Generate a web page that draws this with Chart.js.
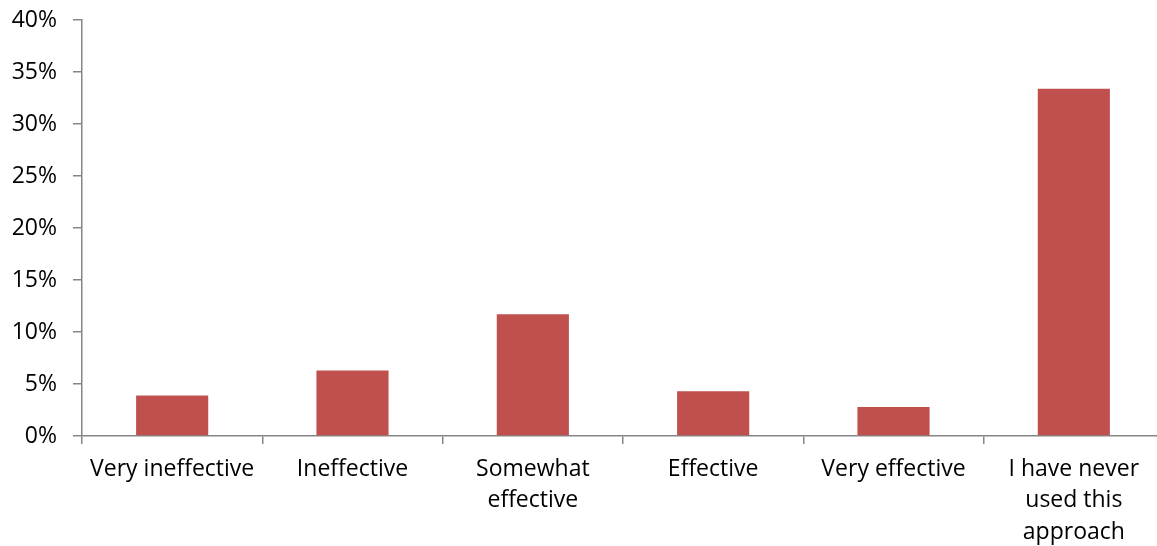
<!DOCTYPE html>
<html>
<head>
<meta charset="utf-8">
<script src="https://cdn.jsdelivr.net/npm/chart.js@4/dist/chart.umd.min.js"></script>
<style>
  html, body { margin: 0; padding: 0; background: #fff; overflow: hidden; }
  #wrap { position: absolute; left: 0; top: 0; width: 1170px; height: 546px; }
</style>
</head>
<body>
<div id="wrap"><canvas id="c"></canvas></div>
<script>
// Survey answers: how effective the approach was judged to be
const categories = [
  'Very ineffective',
  'Ineffective',
  ['Somewhat', 'effective'],
  'Effective',
  'Very effective',
  ['I have never', 'used this', 'approach']
];
// Share of respondents, in percent
const shares = [3.9, 6.3, 11.7, 4.3, 2.8, 33.4];
// Value axis: 0% to 40% in steps of 5
const yMin = 0, yMax = 40, yStep = 5;

const axisGrey = '#868686';
const labelFont = { family: 'Open Sans', size: 23, lineHeight: 1.36 };

new Chart(document.getElementById('c'), {
  type: 'bar',
  data: {
    labels: categories,
    datasets: [{
      data: shares,
      backgroundColor: '#C0504D',
      barPercentage: 0.4,
      categoryPercentage: 1.0
    }]
  },
  options: {
    responsive: true,
    maintainAspectRatio: false,
    animation: false,
    layout: { padding: { top: 0, right: 6, left: 0, bottom: 0 } },
    plugins: { legend: { display: false }, tooltip: { enabled: false } },
    scales: {
      x: {
        offset: true,
        grid: {
          offset: true,
          drawOnChartArea: false,
          drawTicks: true,
          tickLength: 8,
          color: axisGrey,
          lineWidth: 1.5
        },
        border: { display: true, color: axisGrey, width: 1.5 },
        ticks: {
          color: '#000',
          font: labelFont,
          padding: 10,
          maxRotation: 0,
          autoSkip: false
        },
        afterFit: s => { s.height = 110; }
      },
      y: {
        min: yMin,
        max: yMax,
        grid: {
          drawOnChartArea: false,
          drawTicks: true,
          tickLength: 9,
          color: axisGrey,
          lineWidth: 1.5
        },
        border: { display: true, color: axisGrey, width: 1.5 },
        ticks: {
          stepSize: yStep,
          color: '#000',
          font: { family: 'Open Sans', size: 23 },
          padding: 16,
          callback: v => v + '%'
        },
        afterFit: s => { s.width = 82; s.paddingTop = 20; s.paddingBottom = 0; }
      }
    }
  }
});
</script>
</body>
</html>
